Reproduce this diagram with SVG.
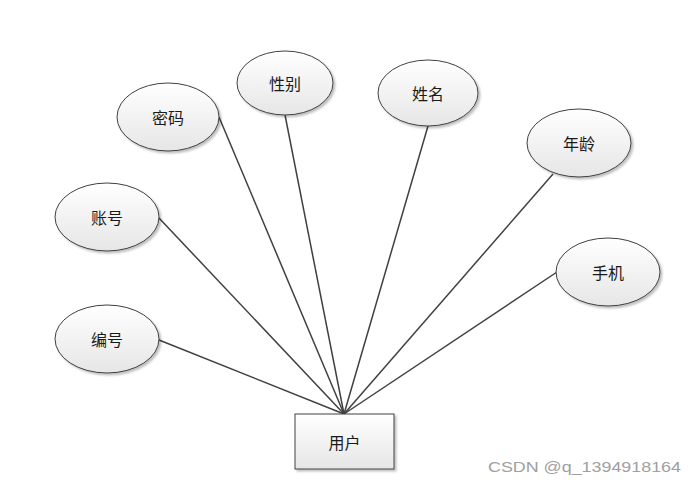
<svg xmlns="http://www.w3.org/2000/svg" width="697" height="484" viewBox="0 0 697 484">
<defs>
<linearGradient id="g" x1="0" y1="0" x2="0" y2="1">
<stop offset="0" stop-color="#ffffff"/>
<stop offset="1" stop-color="#e6e6e6"/>
</linearGradient>
<filter id="sh" x="-20%" y="-20%" width="150%" height="150%">
<feDropShadow dx="2" dy="2" stdDeviation="1.2" flood-color="#000" flood-opacity="0.25"/>
</filter>
</defs>
<style>
.n{fill:url(#g);stroke:#404040;stroke-width:1;filter:url(#sh)}
.t{font-family:"Noto Sans CJK SC",sans-serif;font-size:16px;fill:#1a1a1a;text-anchor:middle;dominant-baseline:central}
.c line{stroke:#404040;stroke-width:1.5}
</style>
<rect width="697" height="484" fill="#ffffff"/>
<g class="c">
<line x1="219" y1="117" x2="344" y2="414"/>
<line x1="285" y1="115" x2="344" y2="414"/>
<line x1="428" y1="126" x2="344" y2="414"/>
<line x1="553" y1="174" x2="344" y2="414"/>
<line x1="557" y1="272" x2="344" y2="414"/>
<line x1="159" y1="218" x2="344" y2="414"/>
<line x1="159" y1="340" x2="344" y2="414"/>
</g>
<g id="mima"><ellipse class="n" cx="168" cy="117" rx="51" ry="34"/><text class="t" x="168" y="117">密码</text></g>
<g id="xingbie"><ellipse class="n" cx="285" cy="83" rx="48" ry="32"/><text class="t" x="285" y="83">性别</text></g>
<g id="xingming"><ellipse class="n" cx="428" cy="93" rx="50" ry="33"/><text class="t" x="428" y="93">姓名</text></g>
<g id="nianling"><ellipse class="n" cx="579" cy="143" rx="52" ry="34"/><text class="t" x="579" y="143">年龄</text></g>
<g id="shouji"><ellipse class="n" cx="608" cy="272" rx="52" ry="34"/><text class="t" x="608" y="272">手机</text></g>
<g id="zhanghao"><ellipse class="n" cx="107" cy="217" rx="52" ry="34"/><text class="t" x="107" y="217">账号</text></g>
<g id="bianhao"><ellipse class="n" cx="107" cy="339" rx="52" ry="34"/><text class="t" x="107" y="339">编号</text></g>
<g id="yonghu"><rect class="n" x="295" y="414" width="99" height="55"/><text class="t" x="344.5" y="441.5">用户</text></g>
<text x="488" y="472" font-family="Liberation Sans, Arial, sans-serif" font-size="15" fill="#a0a0a0" textLength="193" lengthAdjust="spacingAndGlyphs">CSDN @q_1394918164</text>
</svg>
